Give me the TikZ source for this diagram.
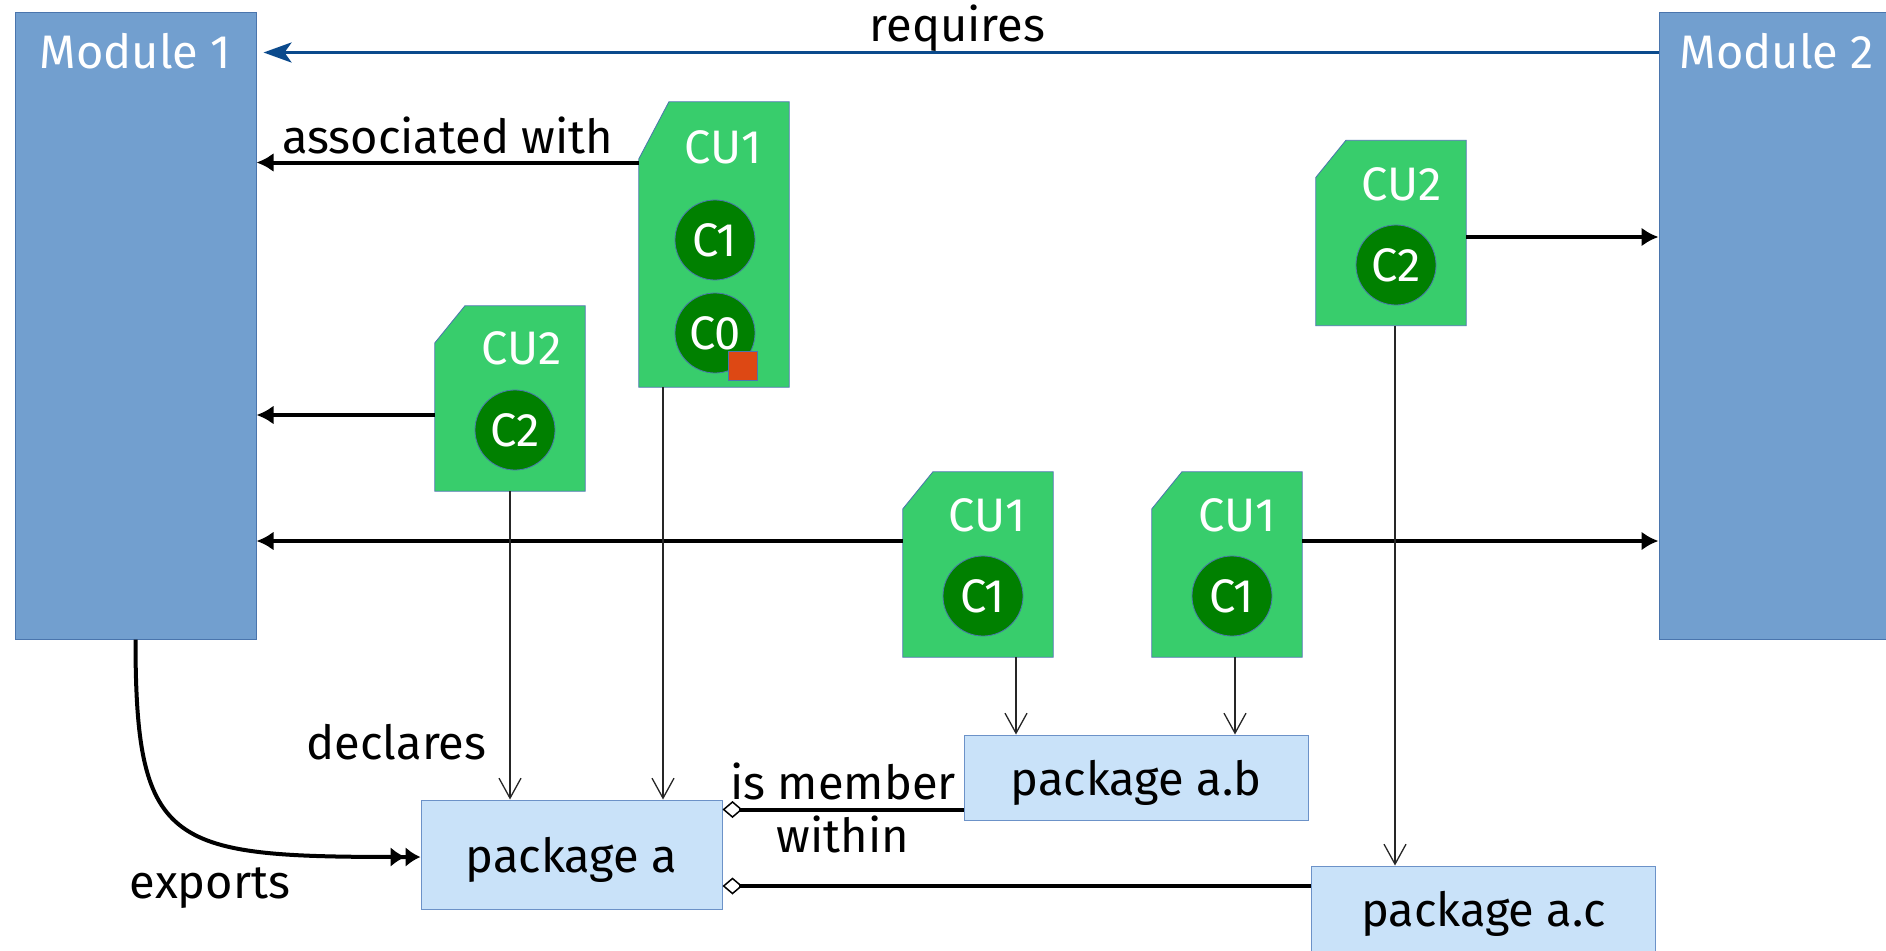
\documentclass[tikz,border=0pt]{standalone}
\usepackage{fontspec}
\setmainfont{Fira Sans}
\usetikzlibrary{arrows.meta,calc,backgrounds,positioning}

\definecolor{modblue}{HTML}{729FCF}
\definecolor{modedge}{HTML}{4A75AD}
\definecolor{cugreen}{HTML}{38CD6C}
\definecolor{cgreen}{HTML}{008000}
\definecolor{pkgblue}{HTML}{C9E2F9}
\definecolor{pkgedge}{HTML}{6C92C8}
\definecolor{reqblue}{HTML}{0B4A8C}
\definecolor{flagred}{HTML}{DD4814}

\tikzset{
  module/.style={rectangle, fill=modblue, draw=modedge, line width=1pt,
    minimum width=241pt, minimum height=626pt},
  modtext/.style={text=white, anchor=base},
  cu/.style={rectangle, minimum width=150pt, minimum height=185pt},
  cushape/.style={fill=cugreen, draw=modedge, line width=0.8pt},
  cutext/.style={text=white, anchor=base},
  cls/.style={circle, fill=cgreen, draw=modedge, line width=0.8pt,
    minimum size=80pt, inner sep=0pt, text=white},
  flag/.style={rectangle, fill=flagred, draw=modedge, line width=0.5pt,
    minimum size=29pt, inner sep=0pt},
  pkg/.style={rectangle, fill=pkgblue, draw=pkgedge, line width=1pt, text depth=0pt},
  lbl/.style={inner sep=2pt, text=black},
  assoc/.style={line width=4pt, -{Latex[length=17pt,width=19pt]}},
  req/.style={line width=3.5pt, reqblue, shorten >=7pt,
    -{Stealth[length=28pt,width=20pt,inset=7pt]}},
  decl/.style={line width=1.3pt, black!85, -{Straight Barb[length=20pt,width=22pt]}},
  exp/.style={line width=4pt, -{Latex[length=15pt,width=20pt]Latex[length=15pt,width=20pt]}},
  agg/.style={line width=4pt, {Diamond[open,length=20pt,width=17pt,line width=1.5pt]}-}
}

\begin{document}
\begin{tikzpicture}[x=1pt, y=-1pt, font=\fontsize{47}{52}\selectfont]
  \useasboundingbox (0,0) rectangle (1886,950);

  % modules
  \node[module] (m1) at (135.5,326) {};
  \node[module] (m2) at (1779.5,326) {};
  \node[modtext] (m1name) at (135.5,68) {Module 1};
  \node[modtext] (m2name) at (1777,68) {Module 2};

  % compilation units
  \node[cu, minimum height=285pt] (cuA) at (714,244.5) {};
  \node[cu] (cuB) at (510,398.5) {};
  \node[cu] (cuC) at (1391,233) {};
  \node[cu] (cuD) at (978,564.5) {};
  \node[cu] (cuE) at (1227,564.5) {};
  \begin{scope}[on background layer]
    \foreach \n in {cuA,cuB,cuC,cuD,cuE}
      \filldraw[cushape] (\n.south west) -- ($(\n.north west)!0.2!(\n.south west)$)
        -- ($(\n.north west)!0.2!(\n.north east)$) -- (\n.north east)
        -- (\n.south east) -- cycle;
  \end{scope}
  \node[cutext] (cuAname) at (723,163) {CU1};
  \node[cutext] (cuBname) at (522,364) {CU2};
  \node[cutext] (cuCname) at (1402,200) {CU2};
  \node[cutext] (cuDname) at (987,531) {CU1};
  \node[cutext] (cuEname) at (1237,531) {CU1};

  % classes
  \node[cls] (a1) at (715,240) {C1};
  \node[cls] (a0) at (715,333) {C0};
  \node[flag] (a0flag) at (742.5,366) {};
  \node[cls] (b2) at (515,430) {C2};
  \node[cls] (c2) at (1396,265) {C2};
  \node[cls] (d1) at (983,596) {C1};
  \node[cls] (e1) at (1232,596) {C1};

  % packages
  \node[pkg, minimum width=301pt, minimum height=109pt] (pkgA) at (571.5,854.5) {package a};
  \node[pkg, minimum width=344pt, minimum height=85pt] (pkgB) at (1136,777.5) {package a.b};
  \node[pkg, minimum width=344pt, minimum height=85pt] (pkgC) at (1483.5,908.5) {package a.c};

  % module dependency
  \draw[req] ([yshift=-40pt]m2.north west) -- ([yshift=-40pt]m1.north east)
    node[lbl, midway, anchor=base, yshift=11pt] {requires};

  % units to modules
  \draw[assoc] ([yshift=82pt]cuA.west) -- ([yshift=82pt]cuA.west -| m1.east)
    node[lbl, midway, anchor=base, yshift=9pt] {associated with};
  \draw[assoc] ([yshift=-16.5pt]cuB.west) -- ([yshift=-16.5pt]cuB.west -| m1.east);
  \draw[assoc] ([yshift=-4pt]cuC.east) -- ([yshift=-4pt]cuC.east -| m2.west);
  \draw[assoc] ([yshift=23.5pt]cuD.west) -- ([yshift=23.5pt]cuD.west -| m1.east);
  \draw[assoc] ([yshift=23.5pt]cuE.east) -- ([yshift=23.5pt]cuE.east -| m2.west);

  % units to packages
  \draw[decl] (cuB.south) -- (cuB.south |- pkgA.north)
    node[lbl, pos=0.87, anchor=base east, xshift=-21pt] {declares};
  \draw[decl] ([xshift=-51pt]cuA.south) -- ([xshift=-51pt]cuA.south |- pkgA.north);
  \draw[decl] ([xshift=38pt]cuD.south) -- ([xshift=38pt]cuD.south |- pkgB.north);
  \draw[decl] ([xshift=8pt]cuE.south) -- ([xshift=8pt]cuE.south |- pkgB.north);
  \draw[decl] ([xshift=4pt]cuC.south) -- ([xshift=4pt]cuC.south |- pkgC.north);

  % exports
  \draw[exp] (m1.south) to[out=-90, in=180, out distance=211pt, in distance=250pt]
    ([yshift=-2.5pt]pkgA.west);
  \node[lbl, anchor=base] (exports) at (210,898) {exports};

  % package membership
  \coordinate (ab) at ([yshift=-32pt]pkgB.west);
  \coordinate (ac) at ([yshift=22.5pt]pkgC.west);
  \draw[agg] (pkgA.east |- ab) -- (ab)
    node[lbl, midway, anchor=base, yshift=10pt] {is member}
    node[lbl, midway, anchor=base, yshift=-43pt] {within};
  \draw[agg] (pkgA.east |- ac) -- (ac);
\end{tikzpicture}
\end{document}
